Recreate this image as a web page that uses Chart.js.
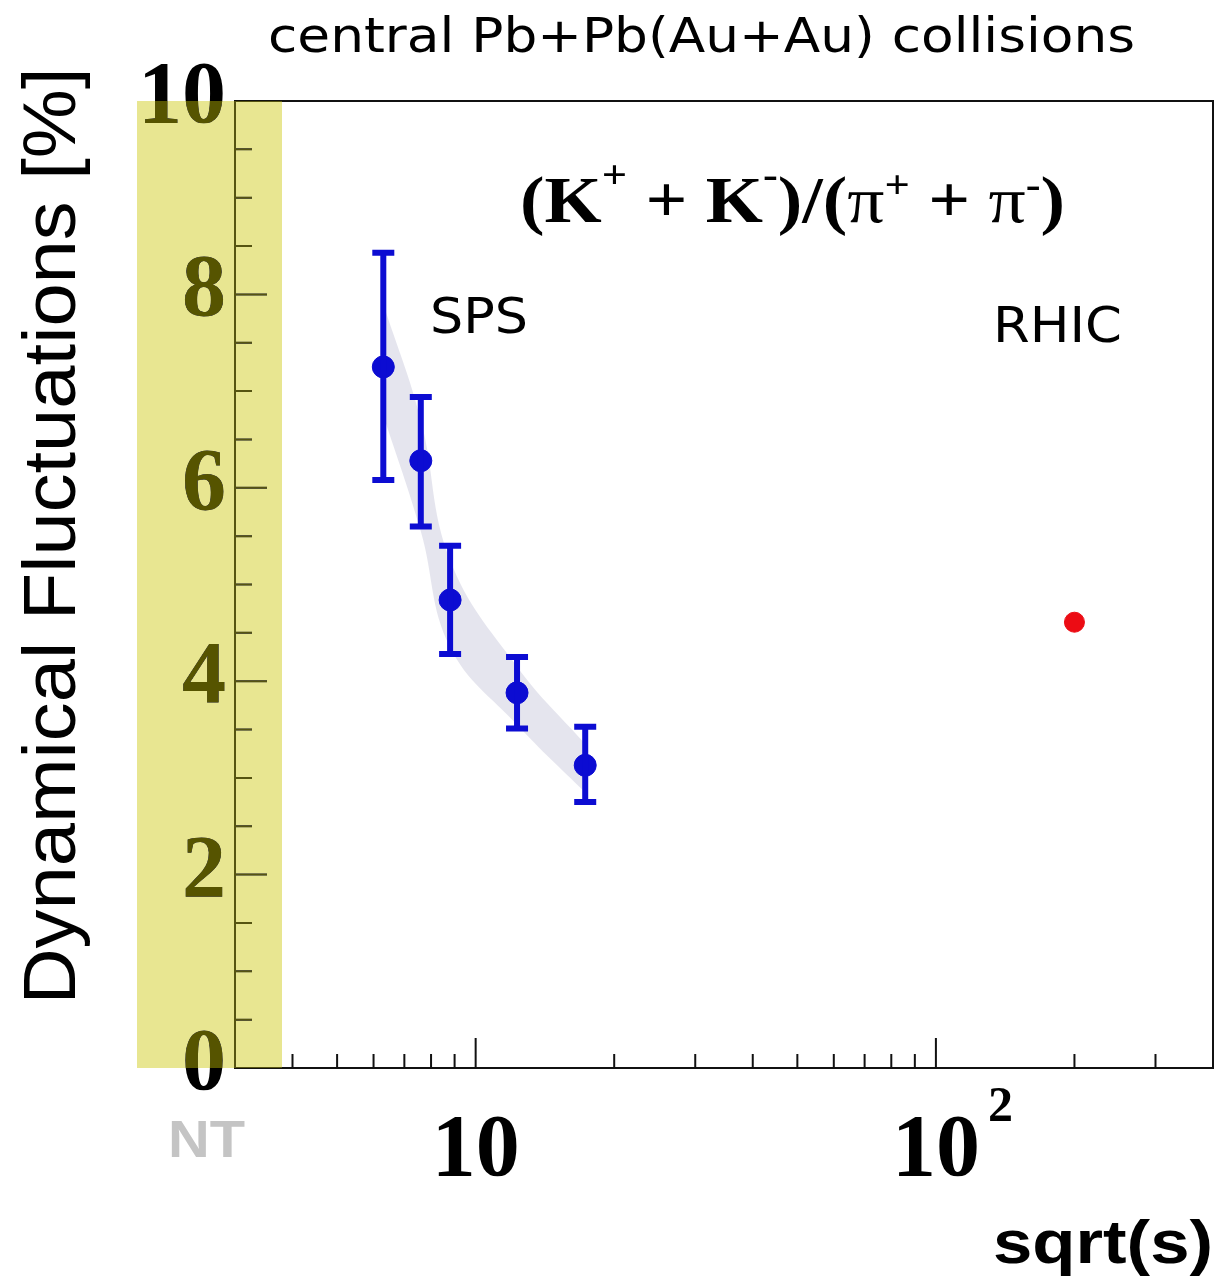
<!DOCTYPE html>
<html>
<head>
<meta charset="utf-8">
<script src="https://cdn.jsdelivr.net/npm/chart.js@4.4.1/dist/chart.umd.min.js"></script>
<style>
  html, body { margin: 0; padding: 0; background: #fff; }
  #wrap { width: 1221px; height: 1287px; }
</style>
</head>
<body>
<div id="wrap"><canvas id="fluctChart" width="1221" height="1287"></canvas></div>
<script>
// SPS points (Pb+Pb)
const spsEnergy = [6.3, 7.6, 8.8, 12.3, 17.3];
const spsValue = [7.25, 6.28, 4.84, 3.88, 3.13];
const spsErrUp = [1.18, 0.66, 0.56, 0.37, 0.40];
const spsErrDown = [1.17, 0.68, 0.56, 0.37, 0.38];
// systematic band around SPS points
const bandUpper = [7.9, 6.7, 5.25, 4.15, 3.35];
const bandLower = [6.75, 5.55, 4.35, 3.55, 2.85];
// RHIC point (Au+Au)
const rhicEnergy = [200];
const rhicValue = [4.61];
// axes
const yMajorTicks = [0, 2, 4, 6, 8, 10];
const yMinorTicks = [0.5, 1, 1.5, 2.5, 3, 3.5, 4.5, 5, 5.5, 6.5, 7, 7.5, 8.5, 9, 9.5];
const xMajorTicks = [10, 100];
const xMinorTicks = [4, 5, 6, 7, 8, 9, 20, 30, 40, 50, 60, 70, 80, 90, 200, 300];
const xTickBase = ["10", "10"];
const xTickExp = ["", "2"];

const blue = "#0c0cd2";
const yellow = "#e8e691";

function fitText(ctx, text, x, y, width, align) {
    // draw text squeezed/stretched to a given width
    let w = ctx.measureText(text).width;
    let s = width / w;
    ctx.save();
    let x0 = x;
    if (align === "center") x0 = x - width / 2;
    else if (align === "right") x0 = x - width;
    ctx.translate(x0, y);
    ctx.scale(s, 1);
    ctx.textAlign = "left";
    ctx.fillText(text, 0, 0);
    ctx.restore();
}

const decorPlugin = {
    id: "decor",
    beforeDraw(chart) {
        const ctx = chart.ctx, a = chart.chartArea;
        ctx.save();
        ctx.fillStyle = "#fff";
        ctx.fillRect(0, 0, chart.width, chart.height);
        ctx.fillStyle = yellow;
        ctx.fillRect(a.left - 98, a.top, 145, a.bottom - a.top);
        ctx.restore();
    },
    afterDatasetsDraw(chart) {
        // error bars
        const ctx = chart.ctx;
        const xs = chart.scales.x, ys = chart.scales.y;
        ctx.save();
        ctx.strokeStyle = blue;
        ctx.lineWidth = 6;
        spsEnergy.forEach((e, i) => {
            let px = xs.getPixelForValue(e);
            let top = ys.getPixelForValue(spsValue[i] + spsErrUp[i]);
            let bot = ys.getPixelForValue(spsValue[i] - spsErrDown[i]);
            ctx.beginPath();
            ctx.moveTo(px, top); ctx.lineTo(px, bot);
            ctx.moveTo(px - 11, top); ctx.lineTo(px + 11, top);
            ctx.moveTo(px - 11, bot); ctx.lineTo(px + 11, bot);
            ctx.stroke();
        });
        ctx.restore();
    },
    afterDraw(chart) {
        const ctx = chart.ctx, a = chart.chartArea;
        const xs = chart.scales.x, ys = chart.scales.y;
        ctx.save();

        // frame
        ctx.strokeStyle = "#111";
        ctx.lineWidth = 2;
        ctx.strokeRect(a.left, a.top, a.right - a.left, a.bottom - a.top);

        // y ticks (inward)
        ctx.lineWidth = 2;
        ctx.beginPath();
        yMajorTicks.forEach(v => {
            let py = ys.getPixelForValue(v);
            ctx.moveTo(a.left, py); ctx.lineTo(a.left + 32, py);
        });
        yMinorTicks.forEach(v => {
            let py = ys.getPixelForValue(v);
            ctx.moveTo(a.left, py); ctx.lineTo(a.left + 17, py);
        });
        // x ticks (inward)
        xMajorTicks.forEach(v => {
            let px = xs.getPixelForValue(v);
            ctx.moveTo(px, a.bottom); ctx.lineTo(px, a.bottom - 30);
        });
        xMinorTicks.forEach(v => {
            let px = xs.getPixelForValue(v);
            ctx.moveTo(px, a.bottom); ctx.lineTo(px, a.bottom - 14);
        });
        ctx.stroke();

        // tick labels
        ctx.fillStyle = "#000";
        ctx.font = "bold 88px 'Liberation Serif'";
        ctx.textAlign = "right";
        ctx.textBaseline = "alphabetic";
        yMajorTicks.forEach(v => {
            ctx.fillText(String(v), a.left - 9, ys.getPixelForValue(v) + 21);
        });
        xMajorTicks.forEach((v, i) => {
            let px = xs.getPixelForValue(v);
            ctx.font = "bold 88px 'Liberation Serif'";
            ctx.textAlign = "center";
            ctx.fillText(xTickBase[i], px, a.bottom + 107);
            if (xTickExp[i]) {
                let w = ctx.measureText(xTickBase[i]).width;
                ctx.font = "bold 50px 'Liberation Serif'";
                ctx.textAlign = "left";
                ctx.fillText(xTickExp[i], px + w / 2 + 8, a.bottom + 53);
            }
        });

        // y axis title
        ctx.save();
        ctx.translate(75, 536);
        ctx.rotate(-Math.PI / 2);
        ctx.font = "74px 'Liberation Sans'";
        fitText(ctx, "Dynamical Fluctuations [%]", 0, 0, 937, "center");
        ctx.restore();

        // x axis title
        ctx.font = "bold 62px 'Liberation Sans'";
        fitText(ctx, "sqrt(s)", a.right, 1263, 220, "right");

        // NT
        ctx.fillStyle = "#c4c4c4";
        ctx.font = "bold 52px 'Liberation Sans'";
        fitText(ctx, "NT", 168, 1157, 77, "left");

        // top title
        ctx.fillStyle = "#000";
        ctx.font = "48px 'DejaVu Sans'";
        fitText(ctx, "central Pb+Pb(Au+Au) collisions", 268, 52, 867, "left");

        // labels
        ctx.font = "50px 'DejaVu Sans'";
        fitText(ctx, "SPS", 430, 333, 98, "left");
        fitText(ctx, "RHIC", 993, 342, 129, "left");

        // formula (K+ + K-)/(pi+ + pi-)
        const big = "bold 66px 'Liberation Serif'";
        const sup = "bold 40px 'Liberation Serif'";
        const pi = "66px 'Liberation Serif'";
        const parts = [
            ["(K", big, 0], ["+", sup, -34], [" + K", big, 0], ["-", sup, -34],
            [")/(", big, 0], ["\u03c0", pi, 0], ["+", sup, -24], [" + ", big, 0], ["\u03c0", pi, 0], ["-", sup, -24], [")", big, 0]
        ];
        let total = 0;
        parts.forEach(p => { ctx.font = p[1]; total += ctx.measureText(p[0]).width; });
        let sc = 545 / total;
        ctx.save();
        ctx.translate(520, 222);
        ctx.scale(sc, 1);
        ctx.textAlign = "left";
        let cx = 0;
        parts.forEach(p => {
            ctx.font = p[1];
            ctx.fillText(p[0], cx, p[2]);
            cx += ctx.measureText(p[0]).width;
        });
        ctx.restore();

        // darken everything dark under the yellow band into olive
        ctx.globalCompositeOperation = "lighten";
        ctx.fillStyle = "#565400";
        ctx.fillRect(a.left - 98, a.top, 145, a.bottom - a.top);
        ctx.restore();
    }
};

const ctx = document.getElementById("fluctChart").getContext("2d");
new Chart(ctx, {
    type: "scatter",
    data: {
        datasets: [
            {
                label: "SPS",
                data: spsEnergy.map((e, i) => ({ x: e, y: spsValue[i] })),
                backgroundColor: blue,
                borderColor: blue,
                pointRadius: 11,
                pointHoverRadius: 11,
                order: 0
            },
            {
                label: "RHIC",
                data: rhicEnergy.map((e, i) => ({ x: e, y: rhicValue[i] })),
                backgroundColor: "#ec0c14",
                borderColor: "#ec0c14",
                pointRadius: 10,
                order: 0
            },
            {
                label: "band upper",
                type: "line",
                data: spsEnergy.map((e, i) => ({ x: e, y: bandUpper[i] })),
                borderWidth: 0,
                pointRadius: 0,
                tension: 0.4,
                backgroundColor: "rgba(226,226,236,0.9)",
                fill: "+1",
                order: 2
            },
            {
                label: "band lower",
                type: "line",
                data: spsEnergy.map((e, i) => ({ x: e, y: bandLower[i] })),
                borderWidth: 0,
                pointRadius: 0,
                tension: 0.4,
                fill: false,
                order: 2
            }
        ]
    },
    options: {
        responsive: false,
        animation: false,
        layout: { autoPadding: false, padding: { left: 235, top: 101, right: 8, bottom: 219 } },
        plugins: {
            legend: { display: false },
            tooltip: { enabled: false },
            title: { display: false }
        },
        scales: {
            x: { type: "logarithmic", min: 3, max: 400, display: false },
            y: { type: "linear", min: 0, max: 10, display: false }
        }
    },
    plugins: [decorPlugin]
});
</script>
</body>
</html>
